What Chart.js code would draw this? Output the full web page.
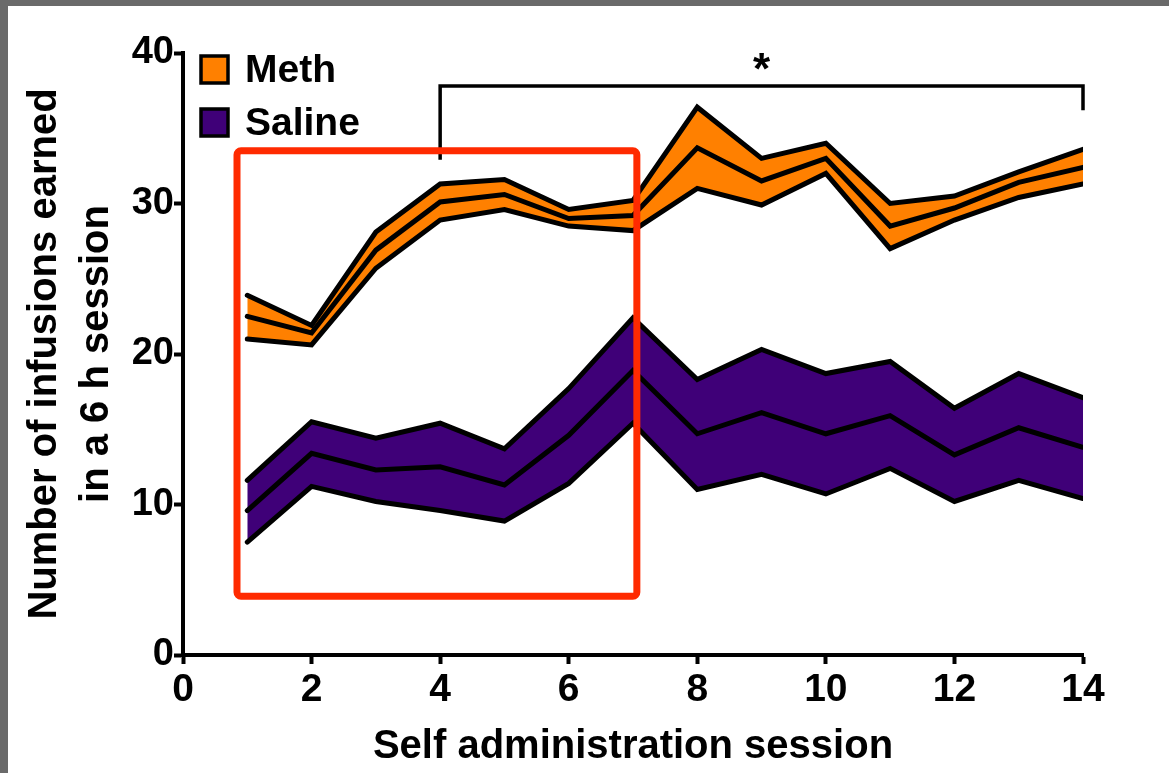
<!DOCTYPE html>
<html lang="en">
<head>
    <meta charset="UTF-8">
    <title>Self administration</title>
    <script src="https://cdn.jsdelivr.net/npm/chart.js@4.4.1/dist/chart.umd.min.js"></script>
    <style>
        body {
            margin: 0;
            background: #6a6a6a;
            width: 1169px;
            height: 773px;
            overflow: hidden;
        }
        #frame {
            position: absolute;
            left: 8px;
            top: 6px;
            width: 1161px;
            height: 767px;
            background: #fff;
        }
    </style>
</head>
<body>
    <div id="frame">
        <canvas id="myChart" width="1161" height="767"></canvas>
    </div>

    <script>
        // sessions 1..14
        var sessions = [1, 2, 3, 4, 5, 6, 7, 8, 9, 10, 11, 12, 13, 14];

        // Meth: mean with upper / lower band
        var methMean  = [22.5, 21.4, 26.9, 30.1, 30.6, 29.0, 29.2, 33.7, 31.5, 33.0, 28.5, 29.7, 31.4, 32.4];
        var methUpper = [23.9, 21.9, 28.1, 31.3, 31.6, 29.6, 30.2, 36.4, 33.0, 34.0, 30.0, 30.5, 32.1, 33.6];
        var methLower = [21.0, 20.6, 25.7, 28.9, 29.6, 28.5, 28.2, 31.0, 29.9, 32.0, 27.0, 28.9, 30.4, 31.3];

        // Saline
        var salMean  = [9.6, 13.4, 12.3, 12.5, 11.3, 14.6, 18.9, 14.7, 16.1, 14.7, 15.9, 13.3, 15.1, 13.8];
        var salUpper = [11.6, 15.5, 14.4, 15.4, 13.7, 17.7, 22.4, 18.3, 20.3, 18.7, 19.5, 16.4, 18.7, 17.1];
        var salLower = [7.5, 11.2, 10.2, 9.6, 8.9, 11.4, 15.4, 11.0, 12.0, 10.7, 12.4, 10.2, 11.6, 10.4];

        var xTicks = [0, 2, 4, 6, 8, 10, 12, 14];
        var yTicks = [0, 10, 20, 30, 40];

        // significance bracket: sessions 4..14
        var bracketX = [4, 14];
        var bracketTop = 37.8;
        var bracketDrop = [32.9, 36.2];
        var starPos = [9, 39.4];

        // red highlight box (x from, x to, y top, y bottom)
        var boxX = [0.84, 7.06];
        var boxY = [33.5, 3.9];

        var FONT = '"Liberation Sans", Arial, Helvetica, sans-serif';
        var ORANGE = '#ff8000';
        var PURPLE = '#3f0078';

        function pts(arr) {
            return sessions.map(function (s, i) { return { x: s, y: arr[i] }; });
        }

        function line(label, arr, fill, bg) {
            return {
                label: label,
                data: pts(arr),
                borderColor: '#000',
                borderWidth: 5,
                backgroundColor: bg || 'rgba(0,0,0,0)',
                fill: fill,
                pointRadius: 0,
                tension: 0,
                borderCapStyle: 'round',
                borderJoinStyle: 'miter'
            };
        }

        var datasets = [
            line('Meth lower', methLower, false),
            line('Meth upper', methUpper, 0, ORANGE),
            line('Meth', methMean, false),
            line('Saline lower', salLower, false),
            line('Saline upper', salUpper, 3, PURPLE),
            line('Saline', salMean, false)
        ];

        // bracket, star, red box and legend
        var extras = {
            id: 'extras',
            afterDraw: function (chart) {
                var ctx = chart.ctx;
                var xs = chart.scales.x, ys = chart.scales.y;
                ctx.save();

                // bracket
                ctx.strokeStyle = '#000';
                ctx.lineWidth = 3.5;
                ctx.lineJoin = 'miter';
                ctx.beginPath();
                ctx.moveTo(xs.getPixelForValue(bracketX[0]), ys.getPixelForValue(bracketDrop[0]));
                ctx.lineTo(xs.getPixelForValue(bracketX[0]), ys.getPixelForValue(bracketTop));
                ctx.lineTo(xs.getPixelForValue(bracketX[1]), ys.getPixelForValue(bracketTop));
                ctx.lineTo(xs.getPixelForValue(bracketX[1]), ys.getPixelForValue(bracketDrop[1]));
                ctx.stroke();

                ctx.fillStyle = '#000';
                ctx.font = 'bold 44px ' + FONT;
                ctx.textAlign = 'center';
                ctx.textBaseline = 'middle';
                ctx.fillText('*', xs.getPixelForValue(starPos[0]), ys.getPixelForValue(starPos[1]) + 10);

                // red box
                var l = xs.getPixelForValue(boxX[0]), r = xs.getPixelForValue(boxX[1]);
                var t = ys.getPixelForValue(boxY[0]), b = ys.getPixelForValue(boxY[1]);
                ctx.strokeStyle = '#ff2a00';
                ctx.lineWidth = 7;
                ctx.beginPath();
                ctx.roundRect(l, t, r - l, b - t, 4);
                ctx.stroke();

                // legend
                var items = [['Meth', ORANGE, 63], ['Saline', PURPLE, 116]];
                ctx.textAlign = 'left';
                ctx.font = 'bold 39px ' + FONT;
                items.forEach(function (it) {
                    ctx.fillStyle = it[1];
                    ctx.fillRect(193, it[2] - 13, 27, 27);
                    ctx.strokeStyle = '#000';
                    ctx.lineWidth = 3.5;
                    ctx.strokeRect(193, it[2] - 13, 27, 27);
                    ctx.fillStyle = '#000';
                    ctx.fillText(it[0], 237, it[2] + 2);
                });
                ctx.restore();
            }
        };

        var ctx = document.getElementById('myChart').getContext('2d');
        var myChart = new Chart(ctx, {
            type: 'line',
            data: { datasets: datasets },
            plugins: [extras],
            options: {
                responsive: false,
                animation: false,
                layout: { padding: { top: 47, right: 86, left: 0, bottom: 0 } },
                plugins: {
                    legend: { display: false },
                    tooltip: { enabled: false },
                    filler: { drawTime: 'beforeDatasetsDraw' }
                },
                scales: {
                    x: {
                        type: 'linear',
                        min: 0,
                        max: 14,
                        afterFit: function (s) { s.height = 118; },
                        afterBuildTicks: function (s) { s.ticks = xTicks.map(function (v) { return { value: v }; }); },
                        border: { color: '#000', width: 4 },
                        grid: { drawOnChartArea: false, color: '#000', tickLength: 9, tickWidth: 4 },
                        ticks: { color: '#000', padding: 3, maxRotation: 0, font: { family: FONT, size: 39, weight: 'bold' } },
                        title: {
                            display: true,
                            text: 'Self administration session',
                            color: '#000',
                            padding: { top: 0, bottom: 0 },
                            font: { family: FONT, size: 40, weight: 'bold', lineHeight: 1.3 }
                        }
                    },
                    y: {
                        min: 0,
                        max: 40,
                        afterFit: function (s) { s.width = 175; },
                        afterBuildTicks: function (s) { s.ticks = yTicks.map(function (v) { return { value: v }; }); },
                        border: { color: '#000', width: 4 },
                        grid: { drawOnChartArea: false, color: '#000', tickLength: 9, tickWidth: 4 },
                        ticks: { color: '#000', padding: 0, font: { family: FONT, size: 38, weight: 'bold' } },
                        title: {
                            display: true,
                            text: ['Number of infusions earned', 'in a 6 h session'],
                            color: '#000',
                            padding: { top: 11, bottom: 0 },
                            font: { family: FONT, size: 40, weight: 'bold', lineHeight: 1.3 }
                        }
                    }
                }
            }
        });
    </script>
</body>
</html>
